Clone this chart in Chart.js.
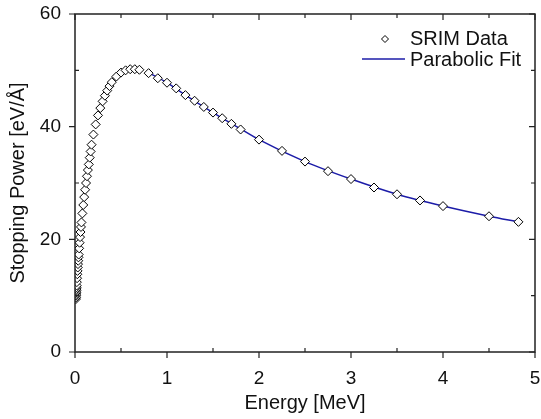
<!DOCTYPE html>
<html>
<head>
<meta charset="utf-8">
<script src="https://cdn.jsdelivr.net/npm/chart.js@4.4.1/dist/chart.umd.min.js"></script>
<style>
  html, body { margin: 0; padding: 0; background: #fff; }
  #wrap { width: 541px; height: 419px; }
</style>
</head>
<body>
<div id="wrap"><canvas id="myChart" width="541" height="419"></canvas></div>
<script>
// SRIM stopping power (MeV, eV/A)
var srimEnergy = [0.010, 0.011, 0.012, 0.013, 0.014, 0.015, 0.016, 0.017, 0.018, 0.020,
  0.0225, 0.025, 0.0275, 0.030, 0.0325, 0.035, 0.0375, 0.040, 0.045, 0.050,
  0.055, 0.060, 0.065, 0.070, 0.080, 0.090, 0.100, 0.110, 0.120, 0.130,
  0.140, 0.150, 0.160, 0.170, 0.180, 0.200, 0.225, 0.250, 0.275, 0.300,
  0.325, 0.350, 0.375, 0.400, 0.450, 0.500, 0.550, 0.600, 0.650, 0.700,
  0.800, 0.900, 1.000, 1.100, 1.200, 1.300, 1.400, 1.500, 1.600, 1.700,
  1.800, 2.000, 2.250, 2.500, 2.750, 3.000, 3.250, 3.500, 3.750, 4.000,
  4.500, 4.820];
var srimPower = [9.4, 9.7, 10.0, 10.3, 10.6, 10.9, 11.2, 11.5, 11.8, 12.4,
  13.1, 13.8, 14.4, 15.0, 15.6, 16.2, 16.8, 17.3, 18.4, 19.4,
  20.4, 21.3, 22.2, 23.0, 24.6, 26.1, 27.5, 28.8, 30.0, 31.2,
  32.3, 33.3, 34.5, 35.6, 36.8, 38.6, 40.4, 42.0, 43.3, 44.5,
  45.5, 46.4, 47.2, 47.9, 48.9, 49.6, 50.0, 50.2, 50.2, 50.1,
  49.5, 48.6, 47.8, 46.8, 45.6, 44.6, 43.5, 42.5, 41.5, 40.5,
  39.5, 37.7, 35.7, 33.8, 32.1, 30.7, 29.2, 28.0, 26.9, 25.9,
  24.1, 23.1];

// parabolic fit
var fitEnergy = [0.8, 1.0, 1.2, 1.5, 1.8, 2.0, 2.5, 3.0, 3.5, 4.0, 4.5, 4.82];
var fitPower = [49.6, 47.8, 45.6, 42.5, 39.6, 37.7, 33.8, 30.7, 28.0, 25.9, 24.1, 23.1];

var xTicks = [0, 1, 2, 3, 4, 5];
var yTicks = [0, 20, 40, 60];

var srimPoints = [];
for (var i = 0; i < srimEnergy.length; i++) {
  srimPoints.push({ x: srimEnergy[i], y: srimPower[i] });
}
var fitPoints = [];
for (var i = 0; i < fitEnergy.length; i++) {
  fitPoints.push({ x: fitEnergy[i], y: fitPower[i] });
}

var axisColor = "#222";
var textColor = "#111";
var fitColor = "#1c1ca8";

// frame, Origin style ticks and legend
var framePlugin = {
  id: "frame",
  afterDraw: function (chart) {
    var c = chart.ctx;
    var a = chart.chartArea;
    var xs = chart.scales.x;
    var ys = chart.scales.y;
    c.save();
    c.strokeStyle = axisColor;
    c.lineWidth = 1.5;
    c.strokeRect(a.left, a.top, a.right - a.left, a.bottom - a.top);

    c.lineWidth = 1.2;
    c.beginPath();
    for (var v = 0; v <= 5.001; v += 0.5) {
      var px = xs.getPixelForValue(v);
      var major = Math.abs(v - Math.round(v)) < 0.01;
      if (major) {
        c.moveTo(px, a.bottom); c.lineTo(px, a.bottom + 6);
      } else {
        c.moveTo(px, a.bottom); c.lineTo(px, a.bottom - 4);
      }
      c.moveTo(px, a.top); c.lineTo(px, a.top + (major ? 6 : 4));
    }
    for (var w = 0; w <= 60; w += 10) {
      var py = ys.getPixelForValue(w);
      var maj = w % 20 === 0;
      if (maj) {
        c.moveTo(a.left, py); c.lineTo(a.left - 6, py);
      } else {
        c.moveTo(a.left, py); c.lineTo(a.left + 4, py);
      }
      c.moveTo(a.right, py); c.lineTo(a.right - (maj ? 6 : 4), py);
    }
    c.stroke();

    // legend
    c.fillStyle = "#fff";
    c.strokeStyle = "#000";
    c.lineWidth = 1;
    c.beginPath();
    c.moveTo(385, 35.5); c.lineTo(388.5, 39); c.lineTo(385, 42.5); c.lineTo(381.5, 39);
    c.closePath();
    c.fill(); c.stroke();
    c.strokeStyle = fitColor;
    c.lineWidth = 1.5;
    c.beginPath();
    c.moveTo(362, 59); c.lineTo(405, 59);
    c.stroke();
    c.fillStyle = textColor;
    c.font = "20px 'Liberation Sans', Arial, sans-serif";
    c.textBaseline = "middle";
    c.textAlign = "left";
    c.fillText("SRIM Data", 410, 39);
    c.fillText("Parabolic Fit", 410, 60);
    c.restore();
  }
};

const ctx = document.getElementById("myChart");
const myChart = new Chart(ctx, {
  type: "scatter",
  data: {
    datasets: [
      {
        label: "Parabolic Fit",
        data: fitPoints,
        showLine: true,
        borderColor: fitColor,
        borderWidth: 1.5,
        pointRadius: 0,
        tension: 0.4,
        cubicInterpolationMode: "monotone",
        order: 2,
      },
      {
        label: "SRIM Data",
        data: srimPoints,
        pointStyle: "rectRot",
        pointRadius: 4.5,
        pointBorderWidth: 1,
        pointBorderColor: "#000",
        pointBackgroundColor: "#fff",
        showLine: false,
        order: 1,
      },
    ],
  },
  options: {
    responsive: false,
    animation: false,
    layout: { padding: { top: 14, right: 6, left: 0, bottom: 0 } },
    plugins: {
      legend: { display: false },
      tooltip: { enabled: false },
    },
    scales: {
      x: {
        type: "linear",
        min: 0,
        max: 5,
        afterBuildTicks: function (s) {
          s.ticks = xTicks.map(function (v) { return { value: v }; });
        },
        afterFit: function (s) {
          s.height = 67;
          s.paddingLeft = 0;
          s.paddingRight = 0;
        },
        grid: { display: false, drawTicks: false },
        border: { display: false },
        ticks: {
          padding: 15,
          color: textColor,
          font: { family: "'Liberation Sans', Arial, sans-serif", size: 19 },
        },
        title: {
          display: true,
          text: "Energy [MeV]",
          color: textColor,
          font: { family: "'Liberation Sans', Arial, sans-serif", size: 20 },
          padding: { top: 0, bottom: 4 },
        },
      },
      y: {
        type: "linear",
        min: 0,
        max: 60,
        afterBuildTicks: function (s) {
          s.ticks = yTicks.map(function (v) { return { value: v }; });
        },
        afterFit: function (s) {
          s.width = 75;
          s.paddingTop = 0;
          s.paddingBottom = 0;
        },
        grid: { display: false, drawTicks: false },
        border: { display: false },
        ticks: {
          padding: 14,
          color: textColor,
          font: { family: "'Liberation Sans', Arial, sans-serif", size: 19 },
        },
        title: {
          display: true,
          text: "Stopping Power [eV/Å]",
          color: textColor,
          font: { family: "'Liberation Sans', Arial, sans-serif", size: 20 },
          padding: { top: 6, bottom: 0 },
        },
      },
    },
  },
  plugins: [framePlugin],
});
</script>
</body>
</html>
